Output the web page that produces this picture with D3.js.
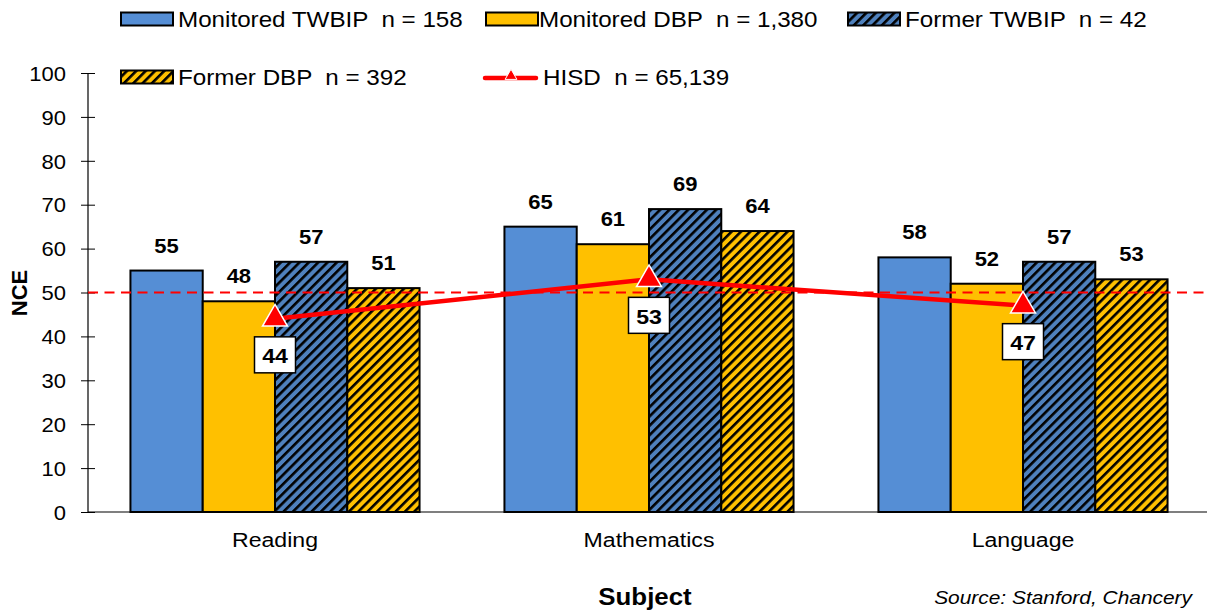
<!DOCTYPE html>
<html><head><meta charset="utf-8">
<script src="https://cdn.jsdelivr.net/npm/d3@7"></script>
<style>body{margin:0;background:#fff}svg{display:block;font-family:"Liberation Sans",Arial,sans-serif}text{white-space:pre}</style>
</head><body><svg id="c" width="1207" height="612"></svg>
<script>
const categories = ["Reading", "Mathematics", "Language"];
const seriesNames = ["Monitored TWBIP  n = 158", "Monitored DBP  n = 1,380", "Former TWBIP  n = 42", "Former DBP  n = 392"];
const monitoredTWBIP = [55, 65, 58];
const monitoredDBP = [48, 61, 52];
const formerTWBIP = [57, 69, 57];
const formerDBP = [51, 64, 53];
const hisdName = "HISD  n = 65,139";
const hisd = [44, 53, 47];
const yTicks = [0,10,20,30,40,50,60,70,80,90,100];
const refLine = 50;

(function(){
const series = [monitoredTWBIP, monitoredDBP, formerTWBIP, formerDBP];
const fills = ["#558ED5", "#FFC000", "url(#hb)", "url(#hy)"];
const SX = 1.1;

const svg = d3.select("#c");
const defs = svg.append("defs");
function hatch(id, bg){
  const w = 6.6;
  const p = defs.append("pattern").attr("id", id).attr("patternUnits","userSpaceOnUse")
    .attr("width", w).attr("height", w).attr("patternTransform","rotate(45)");
  p.append("rect").attr("width",w).attr("height",w).attr("fill",bg);
  p.append("rect").attr("x",0).attr("y",0).attr("width",2.6).attr("height",w).attr("fill","#000");
}
hatch("hb", "#4F81BD");
hatch("hy", "#FFC000");

function txt(x, y, s, size, anchor, opts){
  opts = opts || {};
  const g = svg.append("g").attr("transform", `translate(${x},${y}) scale(${SX},1)`);
  const t = g.append("text").attr("x",0).attr("y",0).attr("font-size", size).attr("text-anchor", anchor || "start")
    .attr("xml:space","preserve").attr("fill","#000").text(s);
  if (opts.bold) t.attr("font-weight","bold");
  if (opts.italic) t.attr("font-style","italic");
  return t;
}

const pL = 88, pR = 1210, pT = 73, pB = 512;
const y = d3.scaleLinear().domain([0,100]).range([pB, pT]);
const x0 = d3.scaleBand().domain(categories).range([pL, pR]).paddingInner(0.227).paddingOuter(0.1135);
const x1 = d3.scaleBand().domain(d3.range(4)).range([0, x0.bandwidth()]);

const yAxis = d3.axisLeft(y).tickValues(yTicks).tickSize(7).tickPadding(12);
const ga = svg.append("g").attr("transform",`translate(${pL},0)`).call(yAxis);
ga.select(".domain").attr("stroke","#000").attr("stroke-width",1.2).attr("d",`M0,${pT}V${pB}`);
ga.selectAll(".tick line").attr("stroke","#000").attr("x2",-7).attr("x1",7);
ga.selectAll(".tick text").attr("font-size",20).attr("fill","#000").attr("font-family","Liberation Sans, Arial, sans-serif")
  .attr("x",0).attr("dy","0.36em").attr("transform",`translate(-22,0) scale(${SX},1)`);
svg.append("line").attr("x1",pL).attr("x2",1207).attr("y1",pB).attr("y2",pB).attr("stroke","#000").attr("stroke-width",1.2);

categories.forEach((c, ci) => {
  series.forEach((s, si) => {
    const bx = x0(c) + x1(si);
    svg.append("rect").attr("x", bx).attr("y", y(s[ci])).attr("width", x1.bandwidth()).attr("height", y(0)-y(s[ci]))
      .attr("fill", fills[si]).attr("stroke","#000").attr("stroke-width",2);
  });
});
categories.forEach((c, ci) => {
  series.forEach((s, si) => {
    const bx = x0(c) + x1(si);
    txt(bx + x1.bandwidth()/2, y(s[ci]) - 18, String(s[ci]), 20, "middle", {bold:true});
  });
  txt(x0(c)+x0.bandwidth()/2, 547, c, 21, "middle");
});

svg.append("line").attr("x1",pL).attr("x2",1207).attr("y1",y(refLine)).attr("y2",y(refLine))
  .attr("stroke","#FF0000").attr("stroke-width",2).attr("stroke-dasharray","10,6.5");

const cx = c => x0(c) + x0.bandwidth()/2;
svg.append("path").datum(hisd).attr("fill","none").attr("stroke","#FF0000").attr("stroke-width",4.5)
  .attr("d", d3.line().x((d,i)=>cx(categories[i])).y(d=>y(d)));
const tri = d3.symbol().type(d3.symbolTriangle).size(270);
hisd.forEach((v,i) => {
  const px = cx(categories[i]), py = y(v);
  svg.append("path").attr("d", tri).attr("transform",`translate(${px},${py})`).attr("fill","#FF0000").attr("stroke","#fff").attr("stroke-width",1.5);
  svg.append("rect").attr("x", px-20.5).attr("y", py+18).attr("width",41).attr("height",36).attr("fill","#fff").attr("stroke","#000").attr("stroke-width",1.5);
  txt(px, py+44.5, String(v), 21, "middle", {bold:true});
});

svg.append("text").attr("transform","translate(27,293) rotate(-90)").attr("text-anchor","middle").attr("font-size",22).attr("font-weight","bold").text("NCE");
txt(645, 605, "Subject", 23.5, "middle", {bold:true});
txt(1192, 604, "Source: Stanford, Chancery", 19, "end", {italic:true});

const legendItems = [
  {name: seriesNames[0], fill: fills[0], x: 121, y: 19, tx: 178},
  {name: seriesNames[1], fill: fills[1], x: 486, y: 19, tx: 539},
  {name: seriesNames[2], fill: fills[2], x: 848, y: 19, tx: 905},
  {name: seriesNames[3], fill: fills[3], x: 121, y: 77, tx: 178},
];
legendItems.forEach(it => {
  svg.append("rect").attr("x", it.x).attr("y", it.y-6.5).attr("width",52).attr("height",13).attr("fill",it.fill).attr("stroke","#000").attr("stroke-width",2);
  txt(it.tx, it.y+8, it.name, 22, "start");
});
svg.append("line").attr("x1",485).attr("x2",536).attr("y1",78).attr("y2",78).attr("stroke","#FF0000").attr("stroke-width",4.5).attr("stroke-linecap","round");
svg.append("path").attr("d", d3.symbol().type(d3.symbolTriangle).size(60)).attr("transform","translate(511,76)").attr("fill","#FF0000").attr("stroke","#fff").attr("stroke-width",1);
txt(543, 85, hisdName, 22, "start");
})();
</script></body></html>
